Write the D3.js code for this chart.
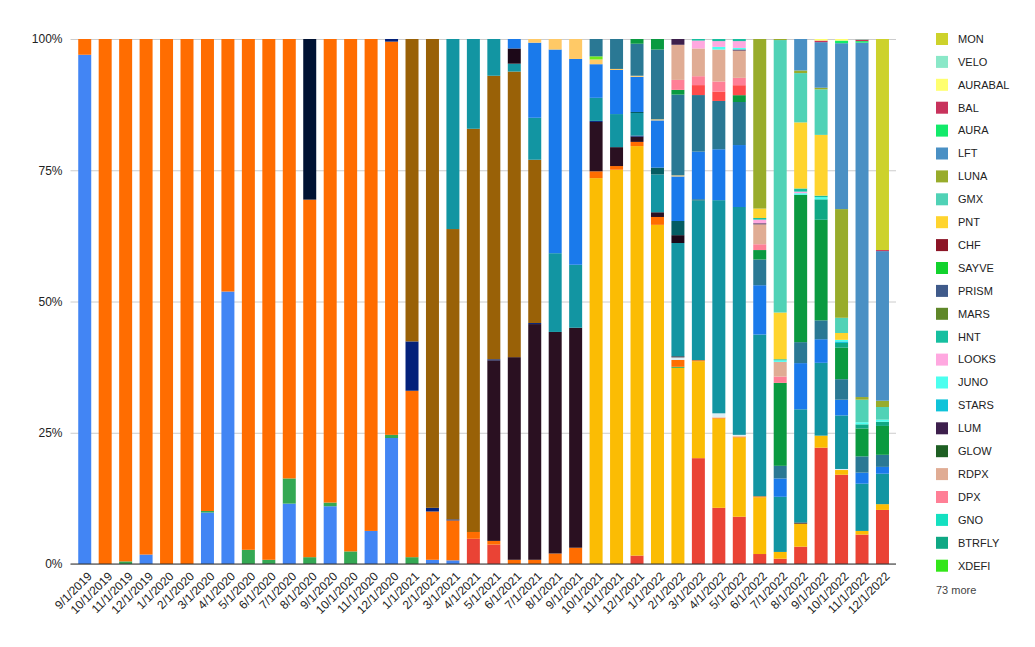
<!DOCTYPE html>
<html><head><meta charset="utf-8">
<script src="https://cdn.jsdelivr.net/npm/d3@7"></script>
<style>body{margin:0;background:#fff;font-family:Arial,"Liberation Sans",sans-serif}</style>
</head><body><svg id="c" width="1035" height="647"></svg>
<script>
const dates = ["9/1/2019","10/1/2019","11/1/2019","12/1/2019","1/1/2020","2/1/2020","3/1/2020","4/1/2020","5/1/2020","6/1/2020","7/1/2020","8/1/2020","9/1/2020","10/1/2020","11/1/2020","12/1/2020","1/1/2021","2/1/2021","3/1/2021","4/1/2021","5/1/2021","6/1/2021","7/1/2021","8/1/2021","9/1/2021","10/1/2021","11/1/2021","12/1/2021","1/1/2022","2/1/2022","3/1/2022","4/1/2022","5/1/2022","6/1/2022","7/1/2022","8/1/2022","9/1/2022","10/1/2022","11/1/2022","12/1/2022"];
const yTicks = [0, 0.25, 0.5, 0.75, 1];
const moreLabel = "73 more";

// stack order, bottom to top (first 19 are among the "73 more" not named in the legend)
const seriesNames = ["OTHER_A","OTHER_B","OTHER_C","OTHER_D","OTHER_E","OTHER_F","OTHER_G","OTHER_H","OTHER_I","OTHER_J","OTHER_K","OTHER_L","OTHER_M","OTHER_N","OTHER_O","OTHER_P","OTHER_Q","OTHER_R","OTHER_S",
  "XDEFI","BTRFLY","GNO","DPX","RDPX","GLOW","LUM","STARS","JUNO","LOOKS","HNT","MARS","PRISM","SAYVE","CHF","PNT","GMX","LUNA","LFT","AURA","BAL","AURABAL","VELO","MON"];
const seriesColors = ["#4285F4","#EA4335","#FBBC04","#34A853","#FF6D01","#DCEEF5","#2A1021","#001233","#03217A","#996107","#1295A2","#1C0818","#055D63","#1A7AEB","#FFC966","#6EEB1A","#2A7894","#0A9A40","#FF4B4B",
  "#33E619","#0FA884","#14E0C0","#FF7F96","#E0AC94","#1E5F23","#3D1F4C","#0FC3D9","#4CFFEF","#FFA8E0","#16BFA0","#5F8729","#3F5A8A","#12D22D","#8C1526","#FFD42E","#50D2B6","#98AC2B","#4A90C4","#12EA6A","#C8325C","#FFFF6F","#8AE8C8","#CDD22B"];
const legendNames = ["MON","VELO","AURABAL","BAL","AURA","LFT","LUNA","GMX","PNT","CHF","SAYVE","PRISM","MARS","HNT","LOOKS","JUNO","STARS","LUM","GLOW","RDPX","DPX","GNO","BTRFLY","XDEFI"];

// values (share in %) per month, one array per series
const OTHER_A = [97.0,0,0,1.8,0,0,9.8,51.9,0,0,11.5,0,11.0,0,6.3,24.0,0,0.8,0.7,0,0,0,0,0,0,0,0,0,0,0,0,0,0,0,0,0,0,0,0,0];
const OTHER_B = [0,0,0,0,0,0,0,0,0,0,0,0,0,0,0,0,0,0,0,4.8,3.7,0,0,0,0,0,0,1.6,0,0,20.2,10.7,9.0,1.9,1.0,3.3,22.2,17.0,5.6,10.3];
const OTHER_C = [0,0,0,0,0,0,0,0,0,0,0,0,0,0,0,0,0,0,0,0,0,0,0,0,0,73.5,75.1,78.0,64.6,37.4,18.5,17.0,15.1,10.8,1.3,4.4,2.3,0.9,0.7,1.1];
const OTHER_D = [0,0,0.5,0,0,0,0.3,0,2.7,0.8,4.8,1.3,0.7,2.4,0,0.6,1.3,0,0,0,0,0,0,0,0,0,0,0,0,0.2,0,0,0,0,0,0,0,0,0,0];
const OTHER_E = [3.0,100,99.5,98.2,100,100,89.9,48.1,97.3,99.2,83.7,68.1,88.3,97.6,93.7,74.9,31.7,9.2,7.6,1.3,0.7,0.8,0.8,2.0,3.1,1.3,0.7,0.8,1.5,1.3,0.2,0.2,0.2,0.2,0,0,0,0,0,0];
const OTHER_F = [0,0,0,0,0,0,0,0,0,0,0,0,0,0,0,0,0,0,0,0,0,0,0,0,0,0,0,0,0,0.5,0,0.8,0.3,0,0,0,0,0.2,0,0];
const OTHER_G = [0,0,0,0,0,0,0,0,0,0,0,0,0,0,0,0,0,0,0,0,34.4,38.6,44.9,42.2,41.9,9.4,3.6,1.0,0.9,0.2,0,0,0,0,0,0.2,0,0,0,0];
const OTHER_H = [0,0,0,0,0,0,0,0,0,0,0,30.6,0,0,0,0,0,0,0,0,0,0,0,0,0,0,0,0,0,0,0,0,0,0,0,0,0,0,0,0];
const OTHER_I = [0,0,0,0,0,0,0,0,0,0,0,0,0,0,0,0.5,9.4,0.7,0.2,0,0.2,0,0.2,0,0,0.2,0,0.2,0,0,0,0,0,0,0,0,0,0,0,0];
const OTHER_J = [0,0,0,0,0,0,0,0,0,0,0,0,0,0,0,0,57.6,89.3,55.3,76.8,54.0,54.4,31.1,0,0,0,0,0,0,0,0,0,0,0,0,0,0,0,0,0];
const OTHER_K = [0,0,0,0,0,0,0,0,0,0,0,0,0,0,0,0,0,0,36.2,17.1,7.0,1.5,8.0,15.0,12.0,4.4,6.3,4.3,7.2,21.6,30.5,40.6,43.4,30.8,10.5,21.6,13.9,10.2,9.0,5.8];
const OTHER_L = [0,0,0,0,0,0,0,0,0,0,0,0,0,0,0,0,0,0,0,0,0,2.9,0,0,0,0,0,0,0,1.5,0,0,0,0,0,0,0,0,0,0];
const OTHER_M = [0,0,0,0,0,0,0,0,0,0,0,0,0,0,0,0,0,0,0,0,0,0,0,0,0,0,0,0.2,1.3,2.7,0.2,0,0,0,0,0,0,0,0,0];
const OTHER_N = [0,0,0,0,0,0,0,0,0,0,0,0,0,0,0,0,0,0,0,0,0,1.8,14.3,38.8,39.2,6.4,8.4,6.7,9.0,8.5,9.1,9.7,11.8,9.4,3.5,8.8,4.5,3.0,2.1,1.3];
const OTHER_O = [0,0,0,0,0,0,0,0,0,0,0,0,0,0,0,0,0,0,0,0,0,0,0.7,2.0,3.8,0.9,0.2,0.2,0.2,0.2,0,0,0,0,0,0,0,0,0,0];
const OTHER_P = [0,0,0,0,0,0,0,0,0,0,0,0,0,0,0,0,0,0,0,0,0,0,0,0,0,0.6,0,0,0,0,0,0,0,0,0,0,0,0,0,0];
const OTHER_Q = [0,0,0,0,0,0,0,0,0,0,0,0,0,0,0,0,0,0,0,0,0,0,0,0,0,3.3,5.7,6.1,13.3,15.4,10.8,9.2,8.2,4.9,2.4,4.0,3.6,3.9,3.1,2.3];
const OTHER_R = [0,0,0,0,0,0,0,0,0,0,0,0,0,0,0,0,0,0,0,0,0,0,0,0,0,0,0,0.9,2.0,0.9,0,0,1.3,1.8,15.8,28.1,19.2,6.0,5.3,5.5];
const OTHER_S = [0,0,0,0,0,0,0,0,0,0,0,0,0,0,0,0,0,0,0,0,0,0,0,0,0,0,0,0,0,0,1.9,1.8,1.9,0,0,0,0,0,0,0];
const XDEFI   = [0,0,0,0,0,0,0,0,0,0,0,0,0,0,0,0,0,0,0,0,0,0,0,0,0,0,0,0,0,0,0,0,0,0,0,0,0,0,0,0];
const BTRFLY  = [0,0,0,0,0,0,0,0,0,0,0,0,0,0,0,0,0,0,0,0,0,0,0,0,0,0,0,0,0,0,0,0,0,0,0,0,3.9,0.9,0.8,0.8];
const GNO     = [0,0,0,0,0,0,0,0,0,0,0,0,0,0,0,0,0,0,0,0,0,0,0,0,0,0,0,0,0,0,0,0,0,0,0,0,0,0,0,0];
const DPX     = [0,0,0,0,0,0,0,0,0,0,0,0,0,0,0,0,0,0,0,0,0,0,0,0,0,0,0,0,0,1.9,1.7,1.9,1.4,1.1,1.2,0,0,0,0,0];
const RDPX    = [0,0,0,0,0,0,0,0,0,0,0,0,0,0,0,0,0,0,0,0,0,0,0,0,0,0,0,0,0,6.7,5.3,6.1,5.2,3.8,2.8,0,0,0,0,0];
const GLOW    = [0,0,0,0,0,0,0,0,0,0,0,0,0,0,0,0,0,0,0,0,0,0,0,0,0,0,0,0,0,0,0,0,0,0,0,0,0,0,0,0];
const LUM     = [0,0,0,0,0,0,0,0,0,0,0,0,0,0,0,0,0,0,0,0,0,0,0,0,0,0,0,0,0,1.1,0,0,0.2,0.2,0,0,0,0,0,0];
const STARS   = [0,0,0,0,0,0,0,0,0,0,0,0,0,0,0,0,0,0,0,0,0,0,0,0,0,0,0,0,0,0,0,0,0,0,0,0,0,0.3,0,0];
const JUNO    = [0,0,0,0,0,0,0,0,0,0,0,0,0,0,0,0,0,0,0,0,0,0,0,0,0,0,0,0,0,0,0,0.5,0.3,0,0.3,0.3,0.4,0.3,0.4,0.4];
const LOOKS   = [0,0,0,0,0,0,0,0,0,0,0,0,0,0,0,0,0,0,0,0,0,0,0,0,0,0,0,0,0,0,1.5,1.1,1.3,0.7,0,0.3,0,0,0,0];
const HNT     = [0,0,0,0,0,0,0,0,0,0,0,0,0,0,0,0,0,0,0,0,0,0,0,0,0,0,0,0,0,0,0.3,0.4,0.4,0.3,0.2,0.6,0.3,0,0,0];
const MARS    = [0,0,0,0,0,0,0,0,0,0,0,0,0,0,0,0,0,0,0,0,0,0,0,0,0,0,0,0,0,0,0,0,0,0,0,0,0,0,0,0];
const PRISM   = [0,0,0,0,0,0,0,0,0,0,0,0,0,0,0,0,0,0,0,0,0,0,0,0,0,0,0,0,0,0,0,0,0,0,0,0,0,0,0,0];
const SAYVE   = [0,0,0,0,0,0,0,0,0,0,0,0,0,0,0,0,0,0,0,0,0,0,0,0,0,0,0,0,0,0,0,0,0,0,0,0,0,0,0,0];
const CHF     = [0,0,0,0,0,0,0,0,0,0,0,0,0,0,0,0,0,0,0,0,0,0,0,0,0,0,0,0,0,0,0,0,0,0,0,0,0,0,0,0];
const PNT     = [0,0,0,0,0,0,0,0,0,0,0,0,0,0,0,0,0,0,0,0,0,0,0,0,0,0,0,0,0,0,0,0,0,1.8,8.9,12.6,11.6,1.3,0,0];
const GMX     = [0,0,0,0,0,0,0,0,0,0,0,0,0,0,0,0,0,0,0,0,0,0,0,0,0,0,0,0,0,0,0,0,0,0,51.9,9.4,8.7,2.9,4.3,2.4];
const LUNA    = [0,0,0,0,0,0,0,0,0,0,0,0,0,0,0,0,0,0,0,0,0,0,0,0,0,0,0,0,0,0,0,0,0,32.3,0.2,0.5,0.3,20.7,0.5,1.2];
const LFT     = [0,0,0,0,0,0,0,0,0,0,0,0,0,0,0,0,0,0,0,0,0,0,0,0,0,0,0,0,0,0,0,0,0,0,0,6.0,8.7,31.6,67.5,28.5];
const AURA    = [0,0,0,0,0,0,0,0,0,0,0,0,0,0,0,0,0,0,0,0,0,0,0,0,0,0,0,0,0,0,0,0,0,0,0,0,0,0.5,0.3,0];
const BAL     = [0,0,0,0,0,0,0,0,0,0,0,0,0,0,0,0,0,0,0,0,0,0,0,0,0,0,0,0,0,0,0,0,0,0,0,0,0.3,0,0.3,0.2];
const AURABAL = [0,0,0,0,0,0,0,0,0,0,0,0,0,0,0,0,0,0,0,0,0,0,0,0,0,0,0,0,0,0,0,0,0,0,0,0,0.3,0.3,0,0];
const VELO    = [0,0,0,0,0,0,0,0,0,0,0,0,0,0,0,0,0,0,0,0,0,0,0,0,0,0,0,0,0,0,0,0,0,0,0,0,0,0,0.1,0];
const MON     = [0,0,0,0,0,0,0,0,0,0,0,0,0,0,0,0,0,0,0,0,0,0,0,0,0,0,0,0,0,0,0,0,0,0,0,0,0,0,0,40.2];

const seriesValues = [OTHER_A,OTHER_B,OTHER_C,OTHER_D,OTHER_E,OTHER_F,OTHER_G,OTHER_H,OTHER_I,OTHER_J,OTHER_K,OTHER_L,OTHER_M,OTHER_N,OTHER_O,OTHER_P,OTHER_Q,OTHER_R,OTHER_S,
  XDEFI,BTRFLY,GNO,DPX,RDPX,GLOW,LUM,STARS,JUNO,LOOKS,HNT,MARS,PRISM,SAYVE,CHF,PNT,GMX,LUNA,LFT,AURA,BAL,AURABAL,VELO,MON];

const rows = dates.map((d, i) => {
  const r = {date: d};
  seriesNames.forEach((n, k) => r[n] = seriesValues[k][i]);
  return r;
});
const colorOf = {};
seriesNames.forEach((n, k) => colorOf[n] = seriesColors[k]);

const svg = d3.select("#c");
const plotLeft = 74.5, plotRight = 892.7, plotTop = 39, plotBottom = 564;

const x = d3.scaleBand().domain(dates).range([plotLeft, plotRight]).paddingInner(0.365).paddingOuter(0.1825);
const y = d3.scaleLinear().domain([0, 1]).range([plotBottom, plotTop]);

// gridlines + y labels
const yAxis = svg.append("g").attr("transform", `translate(${plotLeft - 4},0)`)
  .call(d3.axisLeft(y).tickValues(yTicks).tickFormat(d3.format(".0%")).tickSize(-(896 - plotLeft + 4)).tickPadding(8));
yAxis.select(".domain").remove();
yAxis.selectAll(".tick line").attr("stroke", "#cccccc").attr("stroke-width", 1);
yAxis.selectAll(".tick text").attr("fill", "#222").style("font-size", "12px").style("font-family", "Arial, 'Liberation Sans', sans-serif");

const stack = d3.stack().keys(seriesNames).offset(d3.stackOffsetExpand);
const stacked = stack(rows);

svg.append("g").selectAll("g").data(stacked).join("g")
  .attr("fill", s => colorOf[s.key])
  .selectAll("rect").data(s => s).join("rect")
  .attr("x", d => x(d.data.date))
  .attr("width", x.bandwidth())
  .attr("y", d => y(d[1]))
  .attr("height", d => Math.max(0, y(d[0]) - y(d[1])));

// baseline
svg.append("line").attr("x1", plotLeft - 4).attr("x2", 896).attr("y1", y(0)).attr("y2", y(0))
  .attr("stroke", "#333").attr("stroke-width", 1);

// x labels
const xAxis = svg.append("g").attr("transform", `translate(0,${plotBottom})`)
  .call(d3.axisBottom(x).tickSize(0).tickPadding(0));
xAxis.select(".domain").remove();
xAxis.selectAll(".tick text")
  .attr("fill", "#222").style("font-size", "12px").style("font-family", "Arial, 'Liberation Sans', sans-serif")
  .attr("text-anchor", "end")
  .attr("transform", "translate(5,10) rotate(-45)")
  .attr("dy", "0.35em").attr("y", 0);

// legend
const lg = svg.append("g");
const legendStep = 22.9;
legendNames.forEach((n, i) => {
  const cy = 39 + i * legendStep;
  lg.append("rect").attr("x", 936).attr("y", cy - 6).attr("width", 12).attr("height", 12).attr("fill", colorOf[n]);
  lg.append("text").attr("x", 958).attr("y", cy).attr("dy", "0.35em")
    .style("font-size", "11px").attr("fill", "#222").text(n);
});
lg.append("text").attr("x", 936).attr("y", 590).attr("dy", "0.35em")
  .style("font-size", "11px").attr("fill", "#444").text(moreLabel);
</script></body></html>
